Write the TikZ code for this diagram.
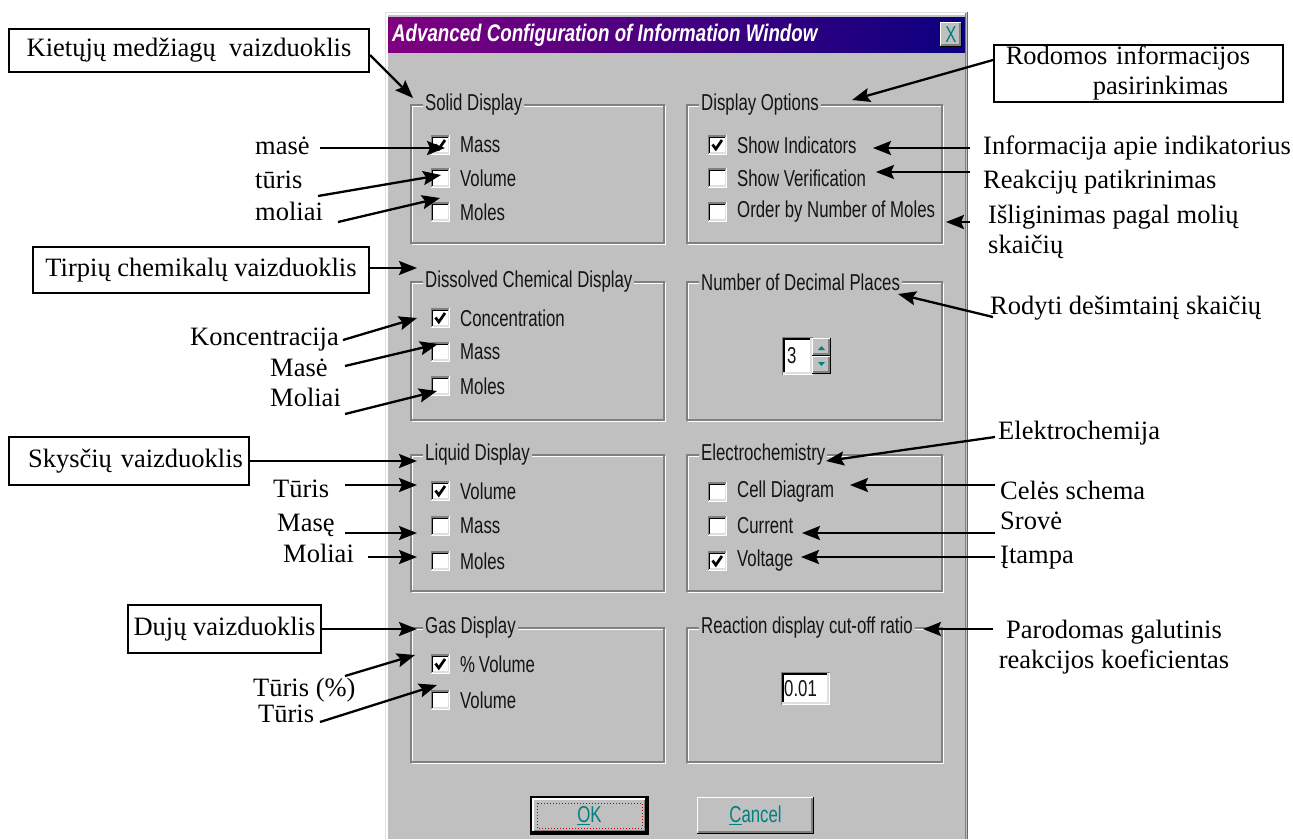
\documentclass[tikz,border=0pt]{standalone}
\usepackage{fontspec}
\setmainfont{Liberation Serif}
\newfontfamily\uifont[FakeStretch=0.73]{Liberation Sans}
\newfontfamily\captionfont[FakeStretch=0.78]{Liberation Sans}
\usetikzlibrary{arrows.meta}

\definecolor{winface}{RGB}{192,192,192}
\definecolor{winshadow}{RGB}{128,128,128}
\definecolor{winlight}{RGB}{223,223,223}
\definecolor{titleleft}{RGB}{128,0,128}
\definecolor{titleright}{RGB}{10,0,128}
\definecolor{uiteal}{RGB}{0,128,128}
\definecolor{uiink}{RGB}{20,20,20}
\definecolor{focusred}{RGB}{200,0,0}

\tikzset{
  note/.style={font=\fontsize{26.5}{30}\selectfont, inner sep=0pt, text=black, anchor=west, text height=18pt, text depth=6pt},
  notelines/.style={font=\fontsize{26.5}{30}\selectfont, inner sep=0pt, text=black},
  notebox/.style={font=\fontsize{26.5}{30}\selectfont, draw=black, line width=1.5pt, inner sep=0pt, align=center},
  ptr/.style={line width=2.3pt, -{Stealth[length=18pt,width=14pt,inset=3pt]}},
  ui/.style={font=\uifont\fontsize{23}{25}\selectfont, text=uiink, inner sep=0pt, anchor=west},
  grouptitle/.style={ui, fill=winface, inner xsep=2pt, inner ysep=1pt},
  tick/.style={line width=2.7pt, black},
  bevel/.style={line width=1.3pt},
}

% etched group frame with its caption
\newcommand\groupframe[6]{% name, left, top, right, bottom, title
  \draw[white, bevel] ({#2+1.3},{#3+1.3}) rectangle ({#4+1.3},{#5+1.3});
  \draw[winshadow, bevel] (#2,#3) rectangle (#4,#5);
  \node[grouptitle] (#1) at ({#2+12},{#3}) {#6};
}
% sunken check box with caption; last argument 1 = ticked
\newcommand\tickbox[5]{% name, left, centre y, caption, ticked
  \node[fill=white, minimum size=17pt, inner sep=0pt] (#1) at ({#2+8.5},{#3}) {};
  \draw[winshadow, bevel] ({#2-0.65},{#3+8.5}) -- ({#2-0.65},{#3-9.15}) -- ({#2+17},{#3-9.15});
  \draw[black, bevel] ({#2+0.65},{#3+7.5}) -- ({#2+0.65},{#3-7.85}) -- ({#2+16},{#3-7.85});
  \draw[winlight, bevel] ({#2+0.65},{#3+7.85}) -- ({#2+16.35},{#3+7.85}) -- ({#2+16.35},{#3-7.85});
  \draw[white, bevel] ({#2-1.3},{#3+9.15}) -- ({#2+17.65},{#3+9.15}) -- ({#2+17.65},{#3-9.8});
  \ifnum#5=1\relax \draw[tick] ({#2+3.5},{#3-0.5}) -- ({#2+6.8},{#3+4}) -- ({#2+13},{#3-5});\fi
  \node[ui] (#1-text) at ({#2+28},{#3}) {#4};
}
% raised button face
\newcommand\raisedpanel[4]{% left, top, right, bottom
  \fill[winface] (#1,#2) rectangle (#3,#4);
  \draw[white, bevel] ({#1+0.65},{#4-1.3}) -- ({#1+0.65},{#2+0.65}) -- ({#3-1.3},{#2+0.65});
  \draw[black, bevel] ({#1},{#4-0.65}) -- ({#3-0.65},{#4-0.65}) -- ({#3-0.65},{#2});
  \draw[winshadow, bevel] ({#1+1.3},{#4-1.95}) -- ({#3-1.95},{#4-1.95}) -- ({#3-1.95},{#2+1.3});
}
% sunken edit field
\newcommand\sunkenfield[4]{% left, top, right, bottom
  \fill[white] (#1,#2) rectangle (#3,#4);
  \draw[winshadow, bevel] ({#1+0.65},{#4}) -- ({#1+0.65},{#2+0.65}) -- ({#3},{#2+0.65});
  \draw[black, bevel] ({#1+1.95},{#4-1.3}) -- ({#1+1.95},{#2+1.95}) -- ({#3-1.3},{#2+1.95});
  \draw[winlight, bevel] ({#1+1.3},{#4-1.95}) -- ({#3-1.95},{#4-1.95}) -- ({#3-1.95},{#2+1.3});
}

\begin{document}
\begin{tikzpicture}[x=1pt,y=-1pt]
\useasboundingbox (0,0) rectangle (1293,839);
\fill[white] (0,0) rectangle (1293,839);

% ---------- dialog window ----------
\fill[winface] (385,12) rectangle (968,839);
\draw[winlight, bevel] (385.65,839) -- (385.65,12.65) -- (967,12.65);
\draw[white, bevel] (386.95,839) -- (386.95,13.95) -- (966,13.95);
\draw[winshadow, bevel] (965.7,13.3) -- (965.7,839);
\draw[black!60, bevel] (967.35,12) -- (967.35,839);

% caption bar
\shade[left color=titleleft, right color=titleright] (388,17) rectangle (965,52);
\node[font=\captionfont\bfseries\itshape\fontsize{24}{26}\selectfont, text=white, inner sep=0pt, anchor=west] (caption) at (392,35) {Advanced Configuration of Information Window};
\raisedpanel{940}{22}{962}{47}
\node[ui, anchor=center, text=uiteal] (close) at (951,34.5) {X};

% groups
\groupframe{solid}{411}{105}{664}{243}{Solid Display}
\tickbox{solid-mass}{432}{145}{Mass}{1}
\tickbox{solid-volume}{432}{178}{Volume}{0}
\tickbox{solid-moles}{432}{212}{Moles}{0}

\groupframe{options}{687}{105}{942}{243}{Display Options}
\tickbox{opt-ind}{709}{145}{Show Indicators}{1}
\tickbox{opt-ver}{709}{178}{Show Verification}{0}
\tickbox{opt-order}{709}{212}{Order by Number of Moles}{0}

\groupframe{dissolved}{411}{282}{664}{420}{Dissolved Chemical Display}
\tickbox{dis-conc}{432}{318}{Concentration}{1}
\tickbox{dis-mass}{432}{352}{Mass}{0}
\tickbox{dis-moles}{432}{386}{Moles}{0}

\groupframe{decimals}{687}{282}{942}{420}{Number of Decimal Places}
\sunkenfield{782}{337}{813}{375}
\node[ui] (places) at (787,356) {3};
\raisedpanel{812}{338}{831}{356}
\raisedpanel{812}{356}{831}{374}
\fill[uiteal] (818,350) -- (825,350) -- (821.5,346) -- cycle;
\fill[uiteal] (818,362) -- (825,362) -- (821.5,366) -- cycle;

\groupframe{liquid}{411}{455}{664}{591}{Liquid Display}
\tickbox{liq-vol}{432}{491}{Volume}{1}
\tickbox{liq-mass}{432}{526}{Mass}{0}
\tickbox{liq-moles}{432}{561}{Moles}{0}

\groupframe{electro}{687}{455}{942}{591}{Electrochemistry}
\tickbox{el-cell}{709}{492}{Cell Diagram}{0}
\tickbox{el-cur}{709}{526}{Current}{0}
\tickbox{el-volt}{709}{561}{Voltage}{1}

\groupframe{gas}{411}{628}{664}{762}{Gas Display}
\tickbox{gas-pct}{432}{664}{\%\,Volume}{1}
\tickbox{gas-vol}{432}{700}{Volume}{0}

\groupframe{cutoff}{687}{628}{942}{762}{Reaction display cut-off ratio}
\sunkenfield{781}{672}{830}{705}
\node[ui] (ratio) at (784,689) {0.01};

% buttons
\draw[black, line width=1.3pt] (531,797) rectangle (648,834);
\raisedpanel{532.3}{798.3}{646.7}{832.7}
\draw[focusred, line width=1pt, dotted] (537,803) rectangle (642,828);
\node[ui, anchor=center, text=uiteal] (ok) at (589.5,815.5) {\underline{O}K};
\raisedpanel{697}{797}{814}{834}
\node[ui, anchor=center, text=uiteal] (cancel) at (755.5,815.5) {\underline{C}ancel};

% ---------- notes on the left ----------
\node[notebox, minimum width=360pt, minimum height=43pt] (solid-note) at (189,50.5) {Kietųjų medžiagų\ \ vaizduoklis};
\node[note] (l-mase) at (255,148) {masė};
\node[note] (l-turis) at (255,182) {tūris};
\node[note] (l-moliai) at (255,214) {moliai};
\node[notebox, minimum width=336pt, minimum height=46pt] (dissolved-note) at (201,270) {Tirpių chemikalų vaizduoklis};
\node[note] (l-konc) at (190,339) {Koncentracija};
\node[note] (l-mase2) at (270,370) {Masė};
\node[note] (l-moliai2) at (270,400) {Moliai};
\node[notebox, minimum width=240pt, minimum height=48pt, text width=228pt, inner xsep=6pt, align=right] (liquid-note) at (129,461) {Skysčių vaizduoklis};
\node[note] (l-turis2) at (273,491) {Tūris};
\node[note] (l-mase3) at (277,525) {Masę};
\node[note] (l-moliai3) at (283,556) {Moliai};
\node[notebox, minimum width=193pt, minimum height=48pt] (gas-note) at (224.5,629) {Dujų vaizduoklis};
\node[note] (l-turis3) at (253,690) {Tūris (\%)};
\node[note] (l-turis4) at (258,716) {Tūris};

% ---------- notes on the right ----------
\node[notebox, anchor=north west, text width=265pt, inner xsep=12pt, minimum height=57pt, align=left] (options-note) at (993,44) {Rodomos informacijos\\\hspace*{87pt}pasirinkimas};
\node[note] (r-ind) at (983,148) {Informacija apie indikatorius};
\node[note] (r-ver) at (983,182) {Reakcijų patikrinimas};
\node[notelines, anchor=north west, align=left] (r-order) at (988,205) {Išliginimas pagal molių\\skaičių};
\node[note] (r-dec) at (990,308) {Rodyti dešimtainį skaičių};
\node[note] (r-el) at (998,433) {Elektrochemija};
\node[note] (r-cell) at (1000,493) {Celės schema};
\node[note] (r-cur) at (1000,523) {Srovė};
\node[note] (r-volt) at (1000,557) {Įtampa};
\node[notelines, anchor=north, align=center] (r-cut) at (1114,620) {Parodomas galutinis\\reakcijos koeficientas};

% ---------- pointer ends ----------
\coordinate (p1a) at (370,55);   \coordinate (p1b) at (413,98);
\coordinate (p2a) at (320,148);  \coordinate (p2b) at (445,148);
\coordinate (p3a) at (318,196);  \coordinate (p3b) at (441,175);
\coordinate (p4a) at (338,222);  \coordinate (p4b) at (440,198);
\coordinate (p5a) at (369,268);  \coordinate (p5b) at (417,268);
\coordinate (p6a) at (343,340);  \coordinate (p6b) at (417,318);
\coordinate (p7a) at (345,366);  \coordinate (p7b) at (438,344);
\coordinate (p8a) at (345,414);  \coordinate (p8b) at (437,391);
\coordinate (p9a) at (249,461);  \coordinate (p9b) at (417,461);
\coordinate (p10a) at (345,485); \coordinate (p10b) at (417,485);
\coordinate (p11a) at (345,533); \coordinate (p11b) at (417,533);
\coordinate (p12a) at (368,557); \coordinate (p12b) at (417,557);
\coordinate (p13a) at (321,629); \coordinate (p13b) at (417,629);
\coordinate (p14a) at (345,676); \coordinate (p14b) at (415,655);
\coordinate (p15a) at (320,722); \coordinate (p15b) at (437,685);
\coordinate (q1a) at (993,60);   \coordinate (q1b) at (852,100);
\coordinate (q2a) at (970,148);  \coordinate (q2b) at (873,148);
\coordinate (q3a) at (970,172);  \coordinate (q3b) at (876,172);
\coordinate (q4a) at (970,222);  \coordinate (q4b) at (946,222);
\coordinate (q5a) at (993,317);  \coordinate (q5b) at (898,294);
\coordinate (q6a) at (995,437);  \coordinate (q6b) at (826,461);
\coordinate (q7a) at (995,485);  \coordinate (q7b) at (850,485);
\coordinate (q8a) at (995,533);  \coordinate (q8b) at (802,533);
\coordinate (q9a) at (995,557);  \coordinate (q9b) at (801,557);
\coordinate (q10a) at (993,629); \coordinate (q10b) at (923,629);

\foreach \n in {p1,p2,p3,p4,p5,p6,p7,p8,p9,p10,p11,p12,p13,p14,p15,q1,q2,q3,q4,q5,q6,q7,q8,q9,q10}
  \draw[ptr] (\n a) -- (\n b);
\end{tikzpicture}
\end{document}
